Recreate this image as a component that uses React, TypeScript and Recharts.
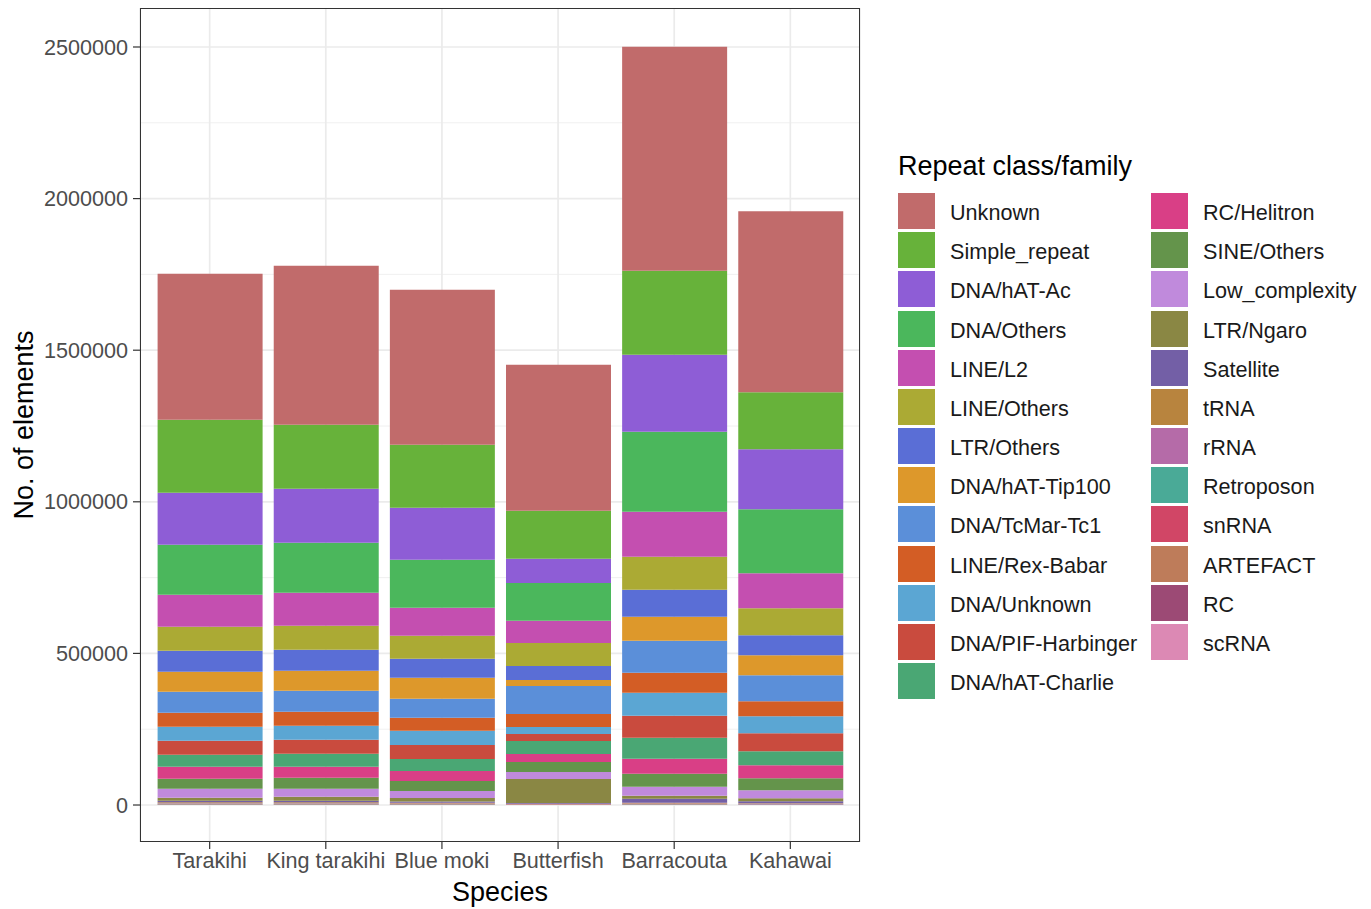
import { BarChart, Bar, XAxis, YAxis, CartesianGrid } from "recharts";

const SPECIES = ["Tarakihi", "King tarakihi", "Blue moki", "Butterfish", "Barracouta", "Kahawai"];

const FAMILIES = [
    "Unknown", "Simple_repeat", "DNA/hAT-Ac", "DNA/Others", "LINE/L2", "LINE/Others",
    "LTR/Others", "DNA/hAT-Tip100", "DNA/TcMar-Tc1", "LINE/Rex-Babar", "DNA/Unknown",
    "DNA/PIF-Harbinger", "DNA/hAT-Charlie", "RC/Helitron", "SINE/Others", "Low_complexity",
    "LTR/Ngaro", "Satellite", "tRNA", "rRNA", "Retroposon", "snRNA", "ARTEFACT", "RC", "scRNA",
];

const COLORS = [
    "#C16B6B", "#67B23A", "#8E5DD6", "#4BB75C", "#C44FB0", "#ABAA34",
    "#5A6ED6", "#DD982B", "#5B8FD9", "#D35D25", "#5BA6D3",
    "#C94B3E", "#4AA774", "#D93F86", "#64944B", "#C08ADC",
    "#8A8744", "#735FA6", "#B8843E", "#B56BA8", "#4AAA97", "#D14666", "#BE7C5A", "#9C4A75", "#DC89B4",
];

// counts per family, in FAMILIES order
const TARAKIHI = [481500, 240800, 171500, 164900, 105500, 79200, 69300, 66000, 69300, 46200, 46200, 46200, 39600, 39600, 33000, 29700, 9900, 5000, 3000, 1500, 1500, 1000, 500, 800, 400];
const KING_TARAKIHI = [524400, 211100, 178100, 164900, 108800, 79200, 69300, 66000, 69300, 46200, 46200, 46200, 42900, 36300, 36300, 26400, 13200, 5000, 3000, 1500, 1500, 1000, 500, 800, 400];
const BLUE_MOKI = [511200, 207800, 171500, 158300, 92300, 75900, 62700, 69300, 62700, 42900, 46200, 46200, 39600, 33000, 33000, 23100, 11500, 4500, 2500, 1500, 1200, 800, 400, 700, 300];
const BUTTERFISH = [481500, 158300, 79200, 125300, 72600, 75900, 46200, 19800, 92300, 42900, 23100, 23100, 42900, 26400, 33000, 23100, 79200, 2500, 1500, 800, 600, 500, 300, 400, 200];
const BARRACOUTA = [738800, 277000, 253900, 263800, 148400, 108800, 89000, 79200, 105500, 66000, 75900, 72600, 69300, 49500, 42900, 29700, 9900, 13200, 2500, 1500, 1000, 800, 400, 600, 300];
const KAHAWAI = [596900, 188000, 197900, 211100, 115400, 89000, 66000, 66000, 85700, 49500, 56100, 59400, 46200, 42900, 39600, 26400, 9900, 6600, 2000, 1200, 900, 700, 300, 500, 200];

const COUNTS = [TARAKIHI, KING_TARAKIHI, BLUE_MOKI, BUTTERFISH, BARRACOUTA, KAHAWAI];

const Y_TICKS = [0, 500000, 1000000, 1500000, 2000000, 2500000];
const Y_MINOR = [250000, 750000, 1250000, 1750000, 2250000];

const data = SPECIES.map((species, i) => {
    const row: Record<string, string | number> = { species };
    FAMILIES.forEach((_, j) => { row["f" + j] = COUNTS[i][j]; });
    return row;
});

const FONT = "'Liberation Sans', Arial, Helvetica, sans-serif";
const tickStyle = { fontSize: 21.6, fill: "#4D4D4D", fontFamily: FONT };

function Legend() {
    const pitch = 39.17;
    return (
        <>
            <div style={{ position: "absolute", left: 898, top: 151, fontSize: 27, lineHeight: "30px", fontFamily: FONT, color: "#000", whiteSpace: "nowrap" }}>
                Repeat class/family
            </div>
            {FAMILIES.map((f, i) => {
                const col = i < 13 ? 0 : 1;
                const row = col === 0 ? i : i - 13;
                const left = col === 0 ? 898 : 1151;
                const top = 193 + row * pitch;
                return (
                    <div key={f}>
                        <div style={{ position: "absolute", left, top, width: 37, height: 36, background: COLORS[i] }} />
                        <div style={{ position: "absolute", left: left + 52, top: top + 20 - 13, fontSize: 21.6, lineHeight: "26px", fontFamily: FONT, color: "#1A1A1A", whiteSpace: "nowrap" }}>
                            {f}
                        </div>
                    </div>
                );
            })}
        </>
    );
}

export default function App() {
    return (
        <div style={{ position: "absolute", left: 0, top: 0, width: 1371, height: 909, background: "#fff" }}>
            <BarChart
                width={1371} height={909} data={data}
                margin={{ top: 8, right: 511, bottom: 0, left: 40 }}
            >
                <CartesianGrid horizontal={true} vertical={false} horizontalValues={Y_MINOR} stroke="#EEEEEE" strokeWidth={0.9} />
                <CartesianGrid horizontal={true} vertical={true} horizontalValues={Y_TICKS} stroke="#EBEBEB" strokeWidth={1.7} />
                <XAxis
                    dataKey="species" type="category" height={67}
                    padding={{ left: 11.6, right: 11.6 }}
                    axisLine={false} tickLine={{ stroke: "#333", strokeWidth: 1.2 }}
                    tickSize={7} tickMargin={4} tick={tickStyle} interval={0}
                />
                <YAxis
                    type="number" width={100} domain={[-122000, 2628600]} allowDataOverflow
                    ticks={Y_TICKS} axisLine={false} tickLine={{ stroke: "#333", strokeWidth: 1.2 }}
                    tickSize={7} tickMargin={5} tick={tickStyle}
                />
                {FAMILIES.map((f, j) => FAMILIES.length - 1 - j).map((j) => (
                    <Bar
                        key={FAMILIES[j]} dataKey={"f" + j} name={FAMILIES[j]} stackId="a"
                        fill={COLORS[j]} barSize={105} isAnimationActive={false}
                    />
                ))}
            </BarChart>
            <div style={{ position: "absolute", left: 140, top: 8, width: 720, height: 834, boxSizing: "border-box", border: "1.2px solid #333", pointerEvents: "none" }} />
            <div style={{ position: "absolute", left: 400, top: 876, width: 200, textAlign: "center", fontSize: 27, lineHeight: "32px", fontFamily: FONT, color: "#000" }}>
                Species
            </div>
            <div style={{ position: "absolute", left: 24 - 150, top: 425 - 16, width: 300, textAlign: "center", fontSize: 27, lineHeight: "32px", fontFamily: FONT, color: "#000", transform: "rotate(-90deg)" }}>
                No. of elements
            </div>
            <Legend />
        </div>
    );
}
